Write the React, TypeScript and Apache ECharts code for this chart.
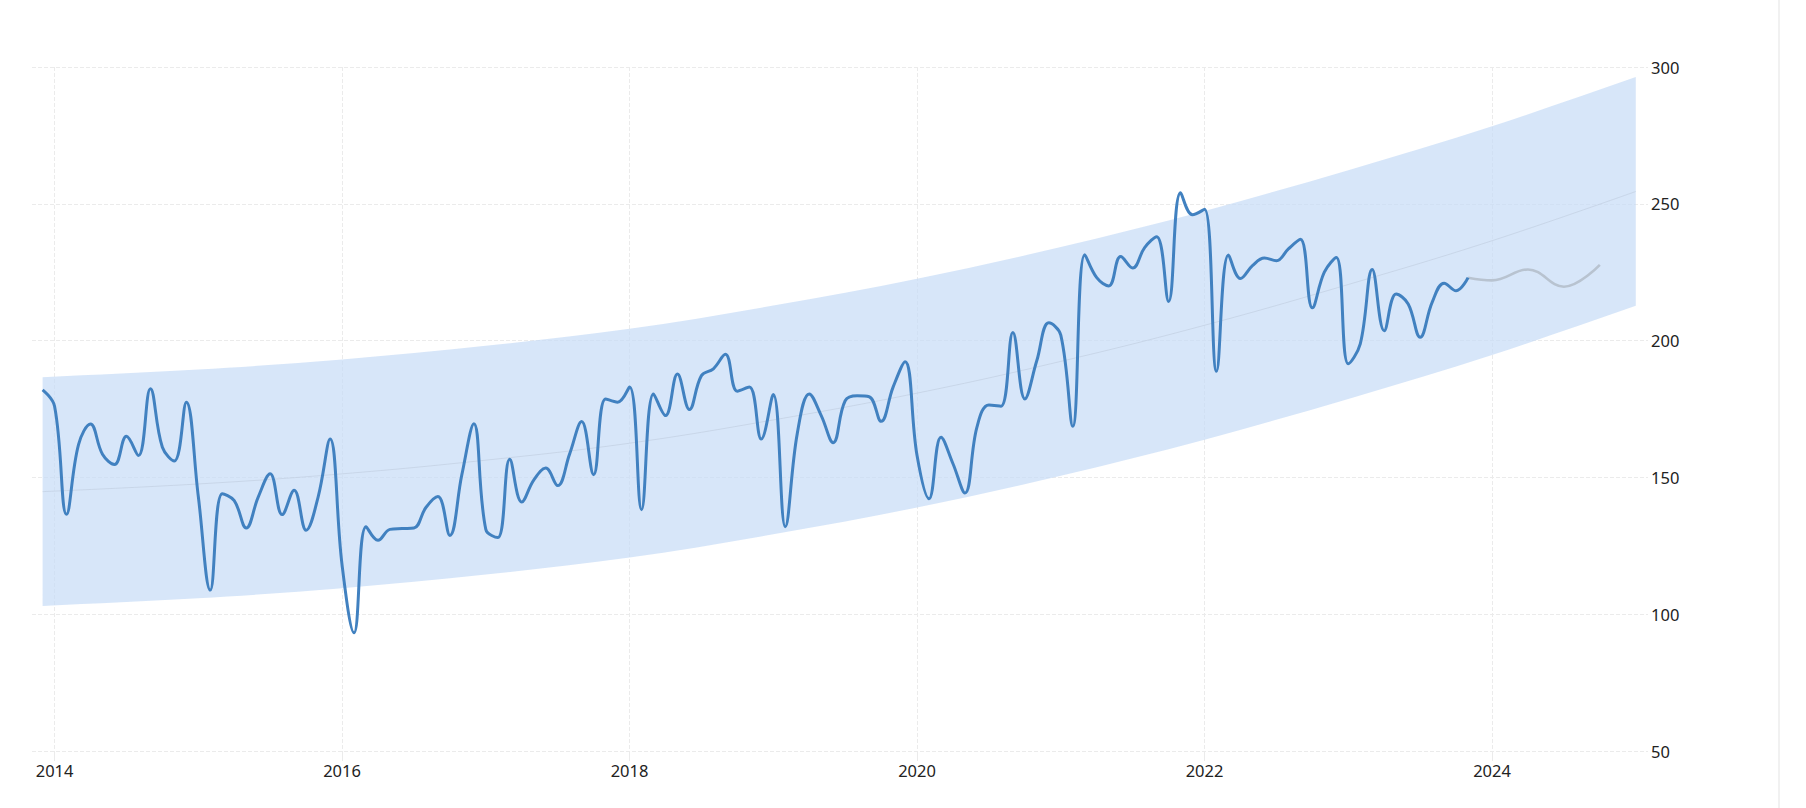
import React, { useEffect, useRef } from "react";
import * as echarts from "echarts";

// Monthly series, first month (end-of-month dating)
const firstMonth = "2013-11";
const actualValues: number[] = [
  182, 176, 136.5, 162, 169.5, 158.5, 154.7, 165, 158, 182.4, 161, 156,
  177.5, 143, 108.8, 144, 141.5, 131.5, 142.8, 151.3, 136.4, 145.3, 130.7, 142.8,
  164, 118, 93.2, 132, 127, 131, 131.3, 131.5, 139, 143, 128.8, 151,
  169.6, 131, 128, 156.6, 141, 149, 153.4, 147, 158.6, 170.4, 151, 178.7,
  177.5, 183, 138.2, 180.5, 172.6, 187.8, 174.8, 187.2, 189.7, 195, 181.5, 183,
  164, 180.3, 132, 166, 180.5, 172.6, 162.7, 178, 179.8, 179.5, 170.5, 183,
  192.3, 158, 142.2, 164.7, 155, 144.3, 168.4, 176.5, 176, 203, 178.7, 192.7,
  206.5, 202, 168.7, 231.4, 223, 220, 230.7, 226.5, 234, 238, 214.3, 254,
  246, 248, 188.8, 231.3, 222.7, 227.4, 230.2, 229.2, 233.5, 237, 212, 225,
  230.4, 191.5, 198.8, 226, 203.6, 217, 213.4, 201.2, 214, 221, 218.2, 223,
];

// Forecast (grey) points
const forecastMonths = ["2023-10", "2023-12", "2024-03", "2024-06", "2024-09"];
const forecastValues = [223, 222, 226, 219.7, 227.7];

// Trend channel
const bandMonths = [
  "2013-11", "2014-12", "2015-12", "2016-12", "2017-12", "2018-12",
  "2019-12", "2020-12", "2021-12", "2022-12", "2023-12", "2024-12",
];
const trendValues = [144.8, 147.6, 151.3, 156.3, 162.5, 171, 180.8, 192.4, 205.6, 220.5, 236.5, 254.5];
const upperBand = [186.6, 189.4, 193.1, 198.1, 204.3, 212.8, 222.6, 234.2, 247.4, 262.3, 278.3, 296.3];
const lowerBand = [103.0, 105.8, 109.5, 114.5, 120.7, 129.2, 139.0, 150.6, 163.8, 178.7, 194.7, 212.7];

// Axis ticks
const yearTicks = [2014, 2016, 2018, 2020, 2022, 2024];
const yTicks = [50, 100, 150, 200, 250, 300];

const monthToX = (s: string) => {
  const [y, m] = s.split("-").map(Number);
  return y + m / 12;
};

// Catmull-Rom curve through pixel points, as SVG path commands (without initial M)
const curveThrough = (pts: number[][]) => {
  const n = pts.length;
  const get = (i: number) => {
    if (i < 0) return [2 * pts[0][0] - pts[1][0], 2 * pts[0][1] - pts[1][1]];
    if (i > n - 1) return [2 * pts[n - 1][0] - pts[n - 2][0], 2 * pts[n - 1][1] - pts[n - 2][1]];
    return pts[i];
  };
  let d = "";
  for (let i = 0; i < n - 1; i++) {
    const p0 = get(i - 1);
    const p1 = pts[i];
    const p2 = pts[i + 1];
    const p3 = get(i + 2);
    const c1x = p1[0] + (p2[0] - p0[0]) / 6;
    const c1y = p1[1] + (p2[1] - p0[1]) / 6;
    const c2x = p2[0] - (p3[0] - p1[0]) / 6;
    const c2y = p2[1] - (p3[1] - p1[1]) / 6;
    d += ` C ${c1x} ${c1y} ${c2x} ${c2y} ${p2[0]} ${p2[1]}`;
  }
  return d;
};

export default function App() {
  const ref = useRef<HTMLDivElement>(null);

  useEffect(() => {
    if (!ref.current) return;
    const chart = echarts.init(ref.current, undefined, { renderer: "svg" });
    const [fy, fm] = firstMonth.split("-").map(Number);
    const actual = actualValues.map((v, i) => [fy + (fm + i) / 12, v]);
    const forecast = forecastMonths.map((m, i) => [monthToX(m), forecastValues[i]]);
    const bandX = bandMonths.map(monthToX);
    const bandData = bandX.map((x, i) => [x, lowerBand[i], upperBand[i]]);
    const trend = trendValues.map((v, i) => [bandX[i], v]);
    const font = "'Noto Sans', 'Open Sans', sans-serif";
    const gridColor = "#ebebeb";

    chart.setOption({
      animation: false,
      backgroundColor: "#ffffff",
      grid: { left: 32, right: 158, top: 67, bottom: 57, containLabel: false },
      xAxis: {
        type: "value",
        min: 2013.843,
        max: 2025.085,
        axisLine: { show: false },
        axisTick: {
          show: true,
          length: 10,
          customValues: yearTicks,
          lineStyle: { color: gridColor },
        },
        axisLabel: {
          customValues: yearTicks,
          formatter: (v: number) => String(v),
          color: "#222",
          fontSize: 16.5,
          fontFamily: font,
          margin: 11,
        },
        splitLine: { show: true, lineStyle: { color: gridColor, type: [4, 2] } },
      },
      yAxis: {
        type: "value",
        position: "right",
        min: yTicks[0],
        max: yTicks[yTicks.length - 1],
        interval: 50,
        axisLine: { show: false },
        axisTick: { show: false },
        axisLabel: { color: "#222", fontSize: 16.5, fontFamily: font, margin: 3 },
        splitLine: { show: true, lineStyle: { color: gridColor, type: [4, 2] } },
      },
      graphic: [
        {
          type: "rect",
          shape: { x: 1778, y: 0, width: 2, height: 808 },
          style: { fill: "#f1f1f1" },
          silent: true,
        },
      ],
      series: [
        {
          type: "custom",
          data: bandData,
          silent: true,
          z: 1,
          clip: false,
          encode: { x: 0, y: [1, 2] },
          renderItem: (params: any, api: any) => {
            if (params.dataIndex !== 0) return null;
            const up = bandData.map((p) => api.coord([p[0], p[2]]));
            const lo = bandData.map((p) => api.coord([p[0], p[1]])).reverse();
            let d = `M ${up[0][0]} ${up[0][1]}` + curveThrough(up);
            d += ` L ${lo[0][0]} ${lo[0][1]}` + curveThrough(lo) + " Z";
            return {
              type: "path",
              shape: { pathData: d },
              style: { fill: "rgba(198, 220, 246, 0.7)" },
            };
          },
        },
        {
          type: "line",
          data: trend,
          smooth: 0.4,
          symbol: "none",
          lineStyle: { color: "#bccadb", width: 0.8, opacity: 0.7 },
          silent: true,
          z: 2,
        },
        {
          type: "line",
          data: forecast,
          smooth: 0.4,
          symbol: "none",
          lineStyle: { color: "#b8c3d0", width: 2.6 },
          z: 3,
        },
        {
          type: "line",
          data: actual,
          smooth: 0.4,
          symbol: "none",
          lineStyle: { color: "#4181c0", width: 3 },
          z: 4,
        },
      ],
    });
    return () => chart.dispose();
  }, []);

  return (
    <div
      ref={ref}
      style={{ position: "fixed", left: 0, top: 0, width: 1806, height: 808 }}
    />
  );
}
